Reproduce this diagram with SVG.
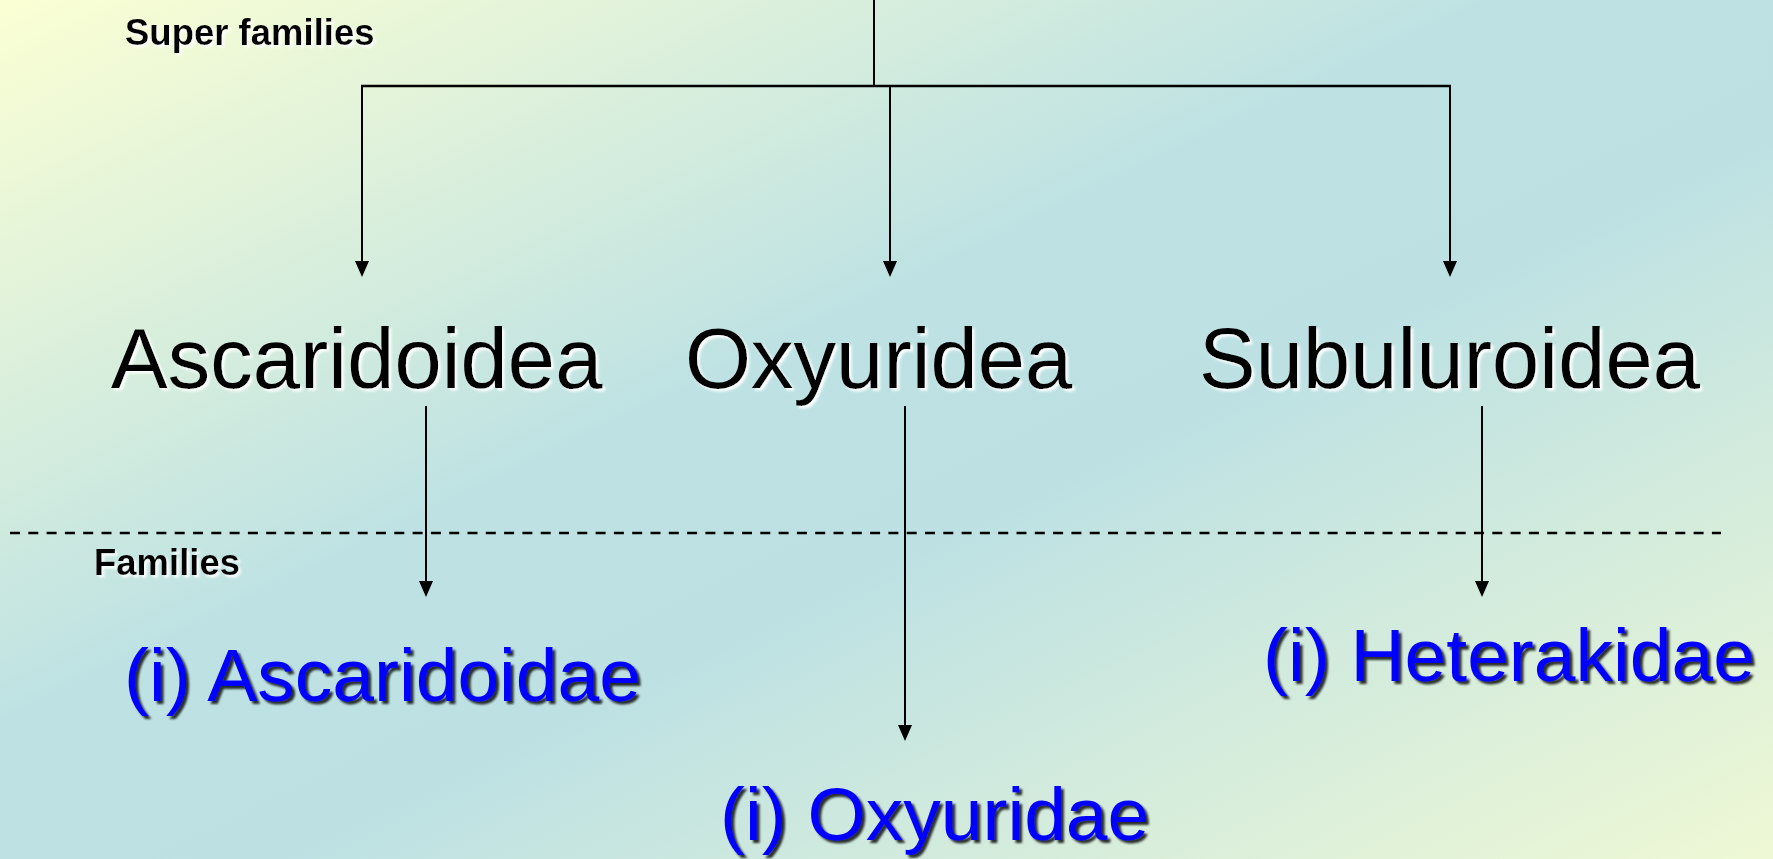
<svg xmlns="http://www.w3.org/2000/svg" width="1773" height="859" viewBox="0 0 1773 859">
  <defs>
    <linearGradient id="bg" x1="0" y1="0" x2="1" y2="1">
      <stop offset="0" stop-color="#FBFFD3"/>
      <stop offset="0.42" stop-color="#BEE2E3"/>
      <stop offset="0.58" stop-color="#BDE1E3"/>
      <stop offset="1" stop-color="#EEF8D4"/>
    </linearGradient>
    <marker id="arr" viewBox="0 0 16 14" refX="5" refY="7" markerWidth="16" markerHeight="14" markerUnits="userSpaceOnUse" orient="auto">
      <path d="M0,0 L16,7 L0,14 z" fill="#000"/>
    </marker>
    <filter id="wsh" x="-5%" y="-20%" width="110%" height="140%">
      <feDropShadow dx="2.5" dy="2.5" stdDeviation="0.8" flood-color="#FFFFFF" flood-opacity="0.95"/>
    </filter>
    <filter id="dsh" x="-5%" y="-20%" width="110%" height="140%">
      <feDropShadow dx="3" dy="3" stdDeviation="1" flood-color="#000000" flood-opacity="0.8"/>
    </filter>
  </defs>
  <style>
    .lbl { font-family: "Liberation Sans", Arial, sans-serif; font-weight: bold; font-size: 36.5px; fill: #000; filter: url(#wsh); }
    .sup { font-family: "Liberation Sans", Arial, sans-serif; font-size: 85px; fill: #000; filter: url(#wsh); }
    .fam { font-family: "Liberation Sans", Arial, sans-serif; font-size: 75px; fill: #0000FF; filter: url(#dsh); }
    .ln { stroke: #000; stroke-width: 2; fill: none; }
    .ar { stroke: #000; stroke-width: 2; fill: none; marker-end: url(#arr); }
    .dash { stroke: #000; stroke-width: 2.5; stroke-dasharray: 10 8.3; fill: none; }
  </style>
  <rect x="0" y="0" width="1773" height="859" fill="url(#bg)"/>

  <g id="connectors">
    <line class="ln" x1="874" y1="0" x2="874" y2="86"/>
    <line class="ln" x1="361" y1="86" x2="1451" y2="86" style="stroke-width:2.6"/>
    <line class="ar" x1="362" y1="86" x2="362" y2="266"/>
    <line class="ar" x1="890" y1="86" x2="890" y2="266"/>
    <line class="ar" x1="1450" y1="86" x2="1450" y2="266"/>
    <line class="ar" x1="426" y1="406" x2="426" y2="586"/>
    <line class="ar" x1="905" y1="406" x2="905" y2="730"/>
    <line class="ar" x1="1482" y1="406" x2="1482" y2="586"/>
    <line class="dash" x1="10" y1="533" x2="1721" y2="533"/>
  </g>

  <g id="label-super-families">
    <text class="lbl" x="125" y="45">Super families</text>
  </g>
  <g id="label-families">
    <text class="lbl" x="94" y="575">Families</text>
  </g>

  <g id="node-ascaridoidea">
    <text class="sup" x="111" y="388">Ascaridoidea</text>
  </g>
  <g id="node-oxyuridea">
    <text class="sup" x="685" y="388">Oxyuridea</text>
  </g>
  <g id="node-subuluroidea">
    <text class="sup" x="1199" y="388">Subuluroidea</text>
  </g>

  <g id="node-ascaridoidae">
    <text class="fam" x="124" y="701">(i) Ascaridoidae</text>
  </g>
  <g id="node-oxyuridae">
    <text class="fam" x="720" y="840">(i) Oxyuridae</text>
  </g>
  <g id="node-heterakidae">
    <text class="fam" x="1263" y="681">(i) Heterakidae</text>
  </g>
</svg>
